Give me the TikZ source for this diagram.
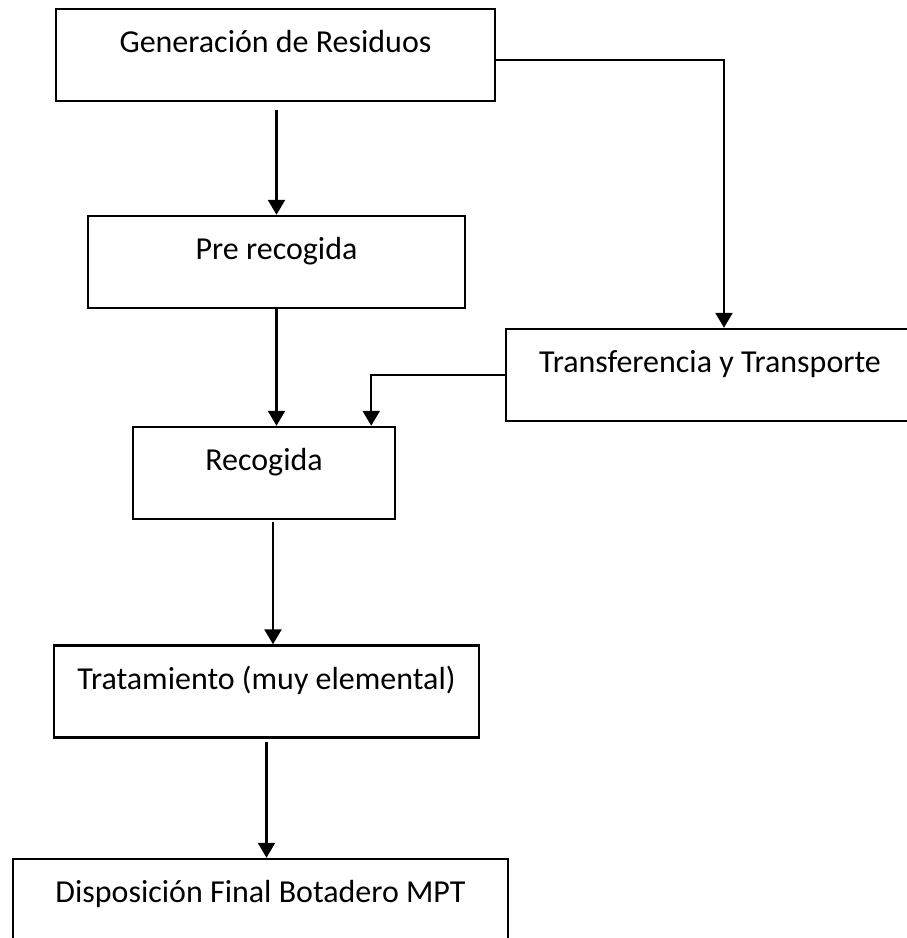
\documentclass[tikz,border=0pt]{standalone}
\usepackage{fontspec}
\setmainfont{Carlito}
\usetikzlibrary{arrows.meta}
\tikzset{
  paso/.style={draw, line width=0.05cm, minimum height=1.84cm, inner sep=0pt,
    label={[anchor=base, label distance=0pt, yshift=-0.9cm]north:#1}},
  flecha/.style={line width=0.05cm, -{Triangle[length=0.3cm,width=0.34cm]}}
}
\begin{document}
\begin{tikzpicture}[x=0.02cm,y=-0.02cm,font=\fontsize{18.2}{22}\selectfont]
		\clip (0,0) rectangle (907,938);
		\node[paso=Generación de Residuos, minimum width=8.78cm] (gen) at (275.5,55) {};
		\node[paso=Pre recogida, minimum width=7.54cm] (pre) at (276.5,262) {};
		\node[paso=Transferencia y Transporte, minimum width=8.16cm] (trans) at (710,375) {};
		\node[paso=Recogida, minimum width=5.24cm] (rec) at (264,473) {};
		\node[paso=Tratamiento (muy elemental), minimum width=8.5cm] (trat) at (266.5,691.5) {};
		\node[paso=Disposición Final Botadero MPT, minimum width=9.9cm] (disp) at (260.5,905) {};
		\draw[flecha, shorten <=0.16cm] (gen.south -| pre.north) -- (pre.north);
		\draw[flecha] ([yshift=-0.1cm]gen.east) -| ([xshift=0.28cm]trans.north);
		\draw[flecha] (pre.south) -- (pre.south |- rec.north);
		\draw[flecha] (trans.west) -| ([xshift=-0.5cm]rec.north east);
		\draw[flecha, shorten <=0.04cm] ([xshift=0.18cm]rec.south) -- ([xshift=0.18cm]rec.south |- trat.north);
		\draw[flecha, shorten <=0.06cm] (trat.south) -- (trat.south |- disp.north);
		\end{tikzpicture}
\end{document}
